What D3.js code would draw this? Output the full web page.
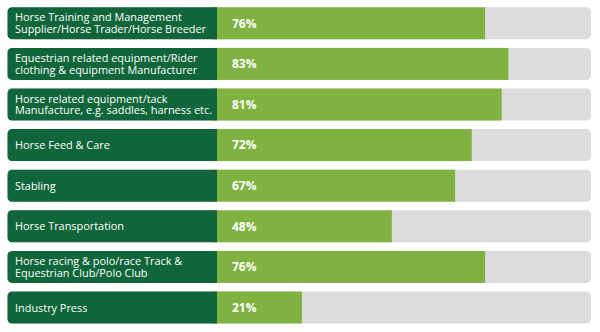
<!DOCTYPE html>
<html><head><meta charset="utf-8">
<script src="https://cdn.jsdelivr.net/npm/d3@7"></script>
<style>html,body{margin:0;padding:0;background:#fff;}svg{display:block;}</style>
</head><body>
<svg id="chart" width="600" height="332"></svg>
<script>
const categories = [
  ["Horse Training and Management", "Supplier/Horse Trader/Horse Breeder"],
  ["Equestrian related equipment/Rider", "clothing & equipment Manufacturer"],
  ["Horse related equipment/tack", "Manufacture, e.g. saddles, harness etc."],
  ["Horse Feed & Care"],
  ["Stabling"],
  ["Horse Transportation"],
  ["Horse racing & polo/race Track &", "Equestrian Club/Polo Club"],
  ["Industry Press"]
];
const values = [76, 83, 81, 72, 67, 48, 76, 21];
const valueLabels = ["76%", "83%", "81%", "72%", "67%", "48%", "76%", "21%"];

const svg = d3.select("#chart");
const left = 7.5, labelEnd = 217, trackEnd = 591;
const x = d3.scaleLinear().domain([0, 100]).range([232, 565]);
const bh = 32;

const rows = svg.selectAll("g.row").data(values).join("g").attr("class", "row")
  .attr("transform", (d, i) => `translate(0,${7.3 + i * 40.6})`);

rows.append("rect").attr("x", left).attr("y", 0).attr("width", trackEnd - left).attr("height", bh)
  .attr("rx", 4.5).attr("fill", "#dcdcdc");
rows.append("rect").attr("x", labelEnd - 6).attr("y", 0).attr("width", d => x(d) - labelEnd + 6).attr("height", bh)
  .attr("fill", "#80b241");
rows.append("path").attr("fill", "#10663a")
  .attr("d", () => {
    const r = 4.5;
    return `M${left + r},0 H${labelEnd} V${bh} H${left + r} A${r},${r} 0 0 1 ${left},${bh - r} V${r} A${r},${r} 0 0 1 ${left + r},0 Z`;
  });

rows.each(function(d, i) {
  const g = d3.select(this);
  const lines = categories[i];
  const lh = 11.8;
  const t = g.append("text").attr("x", 15).attr("fill", "#fff")
    .attr("font-family", "'Open Sans', sans-serif").attr("font-size", 10.9);
  const y0 = bh / 2 - (lines.length - 1) * lh / 2 + 4;
  lines.forEach((s, k) => t.append("tspan").attr("x", 15).attr("y", y0 + k * lh).text(s));
  g.append("text").attr("x", 232).attr("y", bh / 2 + 4.3).attr("fill", "#fff")
    .attr("font-family", "'Open Sans', sans-serif").attr("font-weight", "bold").attr("font-size", 12)
    .text(valueLabels[i]);
});
</script>
</body></html>
